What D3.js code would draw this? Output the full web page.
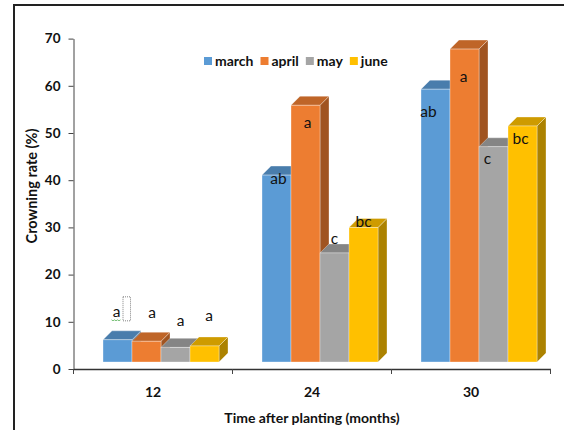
<!DOCTYPE html>
<html>
<head>
<meta charset="utf-8">
<script src="https://cdn.jsdelivr.net/npm/d3@7"></script>
<style>
  body { margin: 0; background: #fff; }
  svg { display: block; }
  text { font-family: Lato, "Open Sans", sans-serif; fill: #111; }
</style>
</head>
<body>
<svg id="chart" width="564" height="430"></svg>
<script>
// data
const months = ["12", "24", "30"];
const seriesNames = ["march", "april", "may", "june"];
const colors = ["#5B9BD5", "#ED7D31", "#A5A5A5", "#FFC000"];
const march = [4.7, 39.6, 57.8];
const april = [4.4, 54.4, 66.3];
const may = [3.1, 23.1, 45.6];
const june = [3.4, 28.5, 50.0];
const marchSig = ["a", "ab", "ab"];
const aprilSig = ["a", "a", "a"];
const maySig = ["a", "c", "c"];
const juneSig = ["a", "bc", "bc"];
const yTicks = [0, 10, 20, 30, 40, 50, 60, 70];

const values = [march, april, may, june];
const sigs = [marchSig, aprilSig, maySig, juneSig];

// hand placed letter boxes (offset from bar front top centre)
const labelNudge = [
  [[-1, -28], [2, 3], [-7, 22]],
  [[5.5, -29], [2, 17], [-1, 28]],
  [[5, -27], [0, -14], [-6, 12]],
  [[4.5, -30], [0, -6], [-2, 13]]
];

const svg = d3.select("#chart");
const depth = 9;      // 3d depth of bars
const shift = 8;      // front face sits behind the axis plane
const barW = 29;

const x = d3.scaleBand().domain(months).range([73.5, 550.5]);
const xs = d3.scaleBand().domain(seriesNames).range([0, barW * 4]);
const y = d3.scaleLinear().domain([0, 70]).range([369, 38.6]);

// outer frame
svg.append("path")
  .attr("d", "M14,430 V5 H564")
  .attr("fill", "none")
  .attr("stroke", "#222")
  .attr("stroke-width", 2);

// bars
const bars = svg.append("g");
months.forEach((m, gi) => {
  const gx = x(m) + (x.bandwidth() - barW * 4) / 2 + shift;
  seriesNames.forEach((s, si) => {
    const v = values[si][gi];
    const c = d3.rgb(colors[si]);
    const x0 = gx + xs(s), x1 = x0 + barW;
    const yt = y(v) - shift + 1, yb = y(0) - shift + 1;
    const g = bars.append("g")
      .attr("stroke", "rgba(255,255,255,0.55)")
      .attr("stroke-width", 0.6);
    g.append("path")
      .attr("d", `M${x1},${yt}L${x1 + depth},${yt - depth}L${x1 + depth},${yb - depth}L${x1},${yb}Z`)
      .attr("fill", c.darker(1.1));
    g.append("path")
      .attr("d", `M${x0},${yt}L${x0 + depth},${yt - depth}L${x1 + depth},${yt - depth}L${x1},${yt}Z`)
      .attr("fill", c.darker(0.6));
    g.append("rect")
      .attr("x", x0).attr("y", yt)
      .attr("width", barW).attr("height", yb - yt)
      .attr("fill", c);
  });
});

// significance letters
const letters = svg.append("g")
  .attr("font-size", 15.5)
  .attr("text-anchor", "middle");
months.forEach((m, gi) => {
  const gx = x(m) + (x.bandwidth() - barW * 4) / 2 + shift;
  seriesNames.forEach((s, si) => {
    const [dx, dy] = labelNudge[si][gi];
    letters.append("text")
      .attr("x", gx + xs(s) + barW / 2 + dx)
      .attr("y", y(values[si][gi]) - shift + 1 + dy)
      .attr("dy", "0.35em")
      .text(sigs[si][gi]);
  });
});

// stray text box + spell-check squiggle next to first letter
{
  const gx = x(months[0]) + (x.bandwidth() - barW * 4) / 2 + shift;
  const lx = gx + barW / 2 - 1, ly = y(march[0]) - shift + 1 - 28;
  svg.append("rect")
    .attr("x", lx + 6.5).attr("y", ly - 15)
    .attr("width", 7.5).attr("height", 24)
    .attr("fill", "none")
    .attr("stroke", "#666")
    .attr("stroke-width", 0.8)
    .attr("stroke-dasharray", "1,1");
  const pts = d3.range(0, 10, 1.5).map((d, i) => [lx - 5 + d, ly + 8 + (i % 2 ? 1 : 0)]);
  svg.append("path")
    .attr("d", d3.line()(pts))
    .attr("fill", "none")
    .attr("stroke", "#6dbb6d")
    .attr("stroke-width", 0.9);
}

// y axis
const yAxis = svg.append("g")
  .attr("transform", "translate(73.5,0)")
  .call(d3.axisLeft(y).tickValues(yTicks).tickSize(5).tickSizeOuter(0).tickPadding(8));
yAxis.select(".domain").attr("stroke", "#444");
yAxis.selectAll(".tick line").attr("stroke", "#444");
yAxis.selectAll(".tick text")
  .attr("font-family", "Lato, sans-serif")
  .attr("font-size", 13.5)
  .attr("font-weight", "bold")
  .attr("fill", "#111");

// x axis
const xAxis = svg.append("g")
  .attr("transform", "translate(0,369)")
  .call(d3.axisBottom(x).tickSize(0).tickPadding(18));
xAxis.select(".domain").attr("stroke", "#333").attr("stroke-width", 1.6);
xAxis.selectAll(".tick text")
  .attr("font-family", "Lato, sans-serif")
  .attr("font-size", 14)
  .attr("font-weight", "bold")
  .attr("fill", "#111");
xAxis.selectAll(".edge")
  .data(months.map(m => x(m)).concat([x.range()[1]]))
  .join("line")
    .attr("class", "edge")
    .attr("x1", d => d).attr("x2", d => d)
    .attr("y1", 0).attr("y2", 5)
    .attr("stroke", "#444");

// axis titles
svg.append("text")
  .attr("x", 312)
  .attr("y", 423)
  .attr("text-anchor", "middle")
  .attr("font-size", 14)
  .attr("font-weight", "bold")
  .text("Time after planting (months)");

svg.append("text")
  .attr("transform", "translate(37,186) rotate(-90)")
  .attr("text-anchor", "middle")
  .attr("font-size", 14.5)
  .attr("font-weight", "bold")
  .text("Crowning rate (%)");

// legend
const legend = svg.append("g")
  .attr("font-size", 14)
  .attr("font-weight", "bold");
let lx = 204;
seriesNames.forEach((s, i) => {
  legend.append("rect")
    .attr("x", lx).attr("y", 57)
    .attr("width", 8).attr("height", 8)
    .attr("fill", colors[i]);
  const t = legend.append("text")
    .attr("x", lx + 11).attr("y", 61)
    .attr("dy", "0.35em")
    .text(s);
  lx += 11 + t.node().getComputedTextLength() + 7;
});
</script>
</body>
</html>
